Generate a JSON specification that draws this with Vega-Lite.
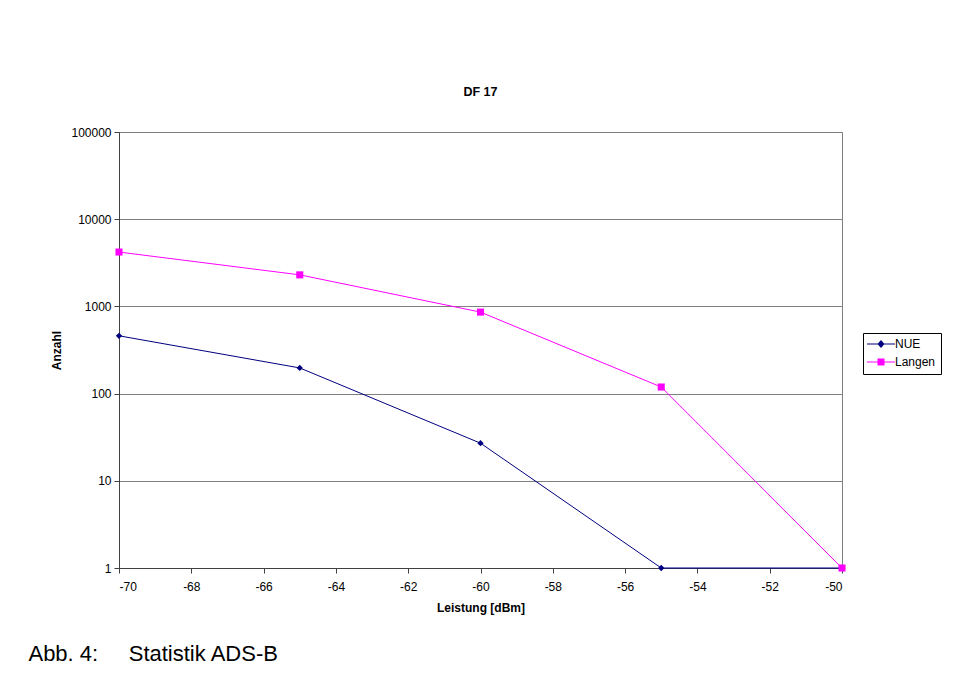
{
  "$schema": "https://vega.github.io/schema/vega-lite/v6.json",
  "background": "white",
  "padding": {"left": 28, "top": 85, "right": 10, "bottom": 10},
  "title": {
    "text": "Abb. 4:\u00a0\u00a0\u00a0\u00a0\u00a0Statistik ADS-B",
    "orient": "bottom",
    "anchor": "start",
    "font": "Liberation Sans",
    "fontSize": 22,
    "fontWeight": "normal",
    "color": "#000000",
    "offset": 30,
    "dx": -22
  },
  "config": {
    "font": "Liberation Sans",
    "view": {"stroke": "#808080", "strokeWidth": 1}
  },
  "vconcat": [
    {
      "width": 723,
      "height": 436,
      "title": {
        "text": "DF 17",
        "font": "Liberation Sans",
        "fontSize": 12.5,
        "fontWeight": "bold",
        "color": "#000000",
        "anchor": "middle",
        "offset": 28
      },
      "data": {
        "values": [
          {"leistung": -70, "anzahl": 460, "series": "NUE"},
          {"leistung": -65, "anzahl": 197, "series": "NUE"},
          {"leistung": -60, "anzahl": 27, "series": "NUE"},
          {"leistung": -55, "anzahl": 1, "series": "NUE"},
          {"leistung": -50, "anzahl": 1, "series": "NUE"},
          {"leistung": -70, "anzahl": 4200, "series": "Langen"},
          {"leistung": -65, "anzahl": 2300, "series": "Langen"},
          {"leistung": -60, "anzahl": 860, "series": "Langen"},
          {"leistung": -55, "anzahl": 119, "series": "Langen"},
          {"leistung": -50, "anzahl": 1, "series": "Langen"}
        ]
      },
      "encoding": {
        "x": {
          "field": "leistung",
          "type": "quantitative",
          "scale": {"domain": [-70, -50], "nice": false, "zero": false},
          "axis": {
            "title": "Leistung [dBm]",
            "values": [-70, -68, -66, -64, -62, -60, -58, -56, -54, -52, -50],
            "labelExpr": "datum.value + ''",
            "grid": false,
            "domainColor": "#404040",
            "tickColor": "#404040",
            "tickSize": 5,
            "labelPadding": 8,
            "labelFontSize": 12,
            "labelColor": "#000000",
            "titleFontSize": 12,
            "titleFontWeight": "bold",
            "titleColor": "#000000",
            "titlePadding": 10
          }
        },
        "y": {
          "field": "anzahl",
          "type": "quantitative",
          "scale": {"type": "log", "domain": [1, 100000], "nice": false},
          "axis": {
            "title": "Anzahl",
            "values": [1, 10, 100, 1000, 10000, 100000],
            "format": "d",
            "grid": true,
            "gridColor": "#808080",
            "domainColor": "#404040",
            "tickColor": "#404040",
            "tickSize": 5,
            "labelPadding": 3,
            "labelFontSize": 12,
            "labelColor": "#000000",
            "titleFontSize": 12,
            "titleFontWeight": "bold",
            "titleColor": "#000000",
            "titlePadding": 7
          }
        }
      },
      "layer": [
        {
          "mark": {"type": "line", "strokeWidth": 1},
          "encoding": {
            "color": {
              "field": "series",
              "type": "nominal",
              "scale": {"domain": ["NUE", "Langen"], "range": ["#000080", "#FF00FF"]},
              "legend": null
            }
          }
        },
        {
          "mark": {"type": "point", "filled": true, "opacity": 1},
          "encoding": {
            "color": {
              "field": "series",
              "type": "nominal",
              "scale": {"domain": ["NUE", "Langen"], "range": ["#000080", "#FF00FF"]},
              "legend": null
            },
            "shape": {
              "field": "series",
              "type": "nominal",
              "scale": {"domain": ["NUE", "Langen"], "range": ["diamond", "square"]},
              "legend": null
            },
            "size": {
              "field": "series",
              "type": "nominal",
              "scale": {"domain": ["NUE", "Langen"], "range": [40, 50]},
              "legend": null
            }
          }
        },
        {
          "mark": {"type": "point", "filled": true, "opacity": 0},
          "encoding": {
            "fill": {
              "field": "series",
              "type": "nominal",
              "scale": {"domain": ["NUE", "Langen"], "range": ["#000080", "#FF00FF"]},
              "legend": {
                "title": null,
                "orient": "none",
                "legendX": 744,
                "legendY": 201,
                "strokeColor": "#000000",
                "padding": 5,
                "rowPadding": 4,
                "labelFontSize": 12,
                "labelColor": "#000000",
                "symbolOffset": 7,
                "labelOffset": 8,
                "symbolSize": 100,
                "symbolOpacity": 1
              }
            },
            "shape": {
              "field": "series",
              "type": "nominal",
              "scale": {
                "domain": ["NUE", "Langen"],
                "range": [
                  "M-2.8,-0.1H2.8V0.1H-2.8Z M0,-0.8L0.7,0L0,0.8L-0.7,0Z",
                  "M-2.8,-0.1H2.8V0.1H-2.8Z M-0.7,-0.7H0.7V0.7H-0.7Z"
                ]
              },
              "legend": {
                "title": null,
                "orient": "none",
                "legendX": 744,
                "legendY": 201,
                "strokeColor": "#000000",
                "padding": 5,
                "rowPadding": 4,
                "labelFontSize": 12,
                "labelColor": "#000000",
                "symbolOffset": 7,
                "labelOffset": 8,
                "symbolSize": 100,
                "symbolOpacity": 1
              }
            }
          }
        }
      ],
      "resolve": {
        "scale": {"shape": "independent", "fill": "independent"},
        "legend": {"shape": "independent", "fill": "independent"}
      }
    }
  ]
}
